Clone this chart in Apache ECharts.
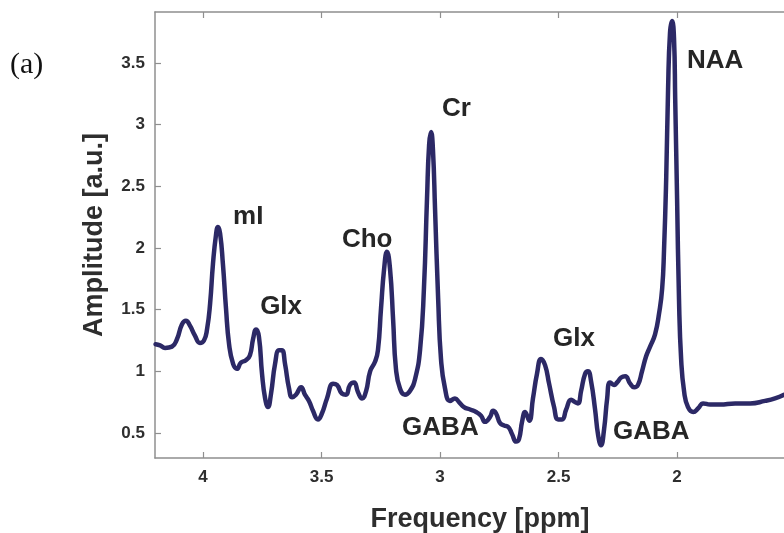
<!DOCTYPE html>
<html>
<head>
<meta charset="utf-8">
<script src="https://cdn.jsdelivr.net/npm/echarts@6/dist/echarts.min.js"></script>
<style>
html,body{margin:0;padding:0;background:#fff;}
#chart{width:784px;height:533px;}
</style>
</head>
<body>
<div id="chart"></div>
<script>
// Spectrum: frequency (ppm) and amplitude (a.u.)
var ppm = [4.20,4.181,4.160,4.131,4.110,4.089,4.072,4.055,4.034,4.013,3.996,3.983,3.970,3.958,3.945,3.937,3.928,3.916,3.903,3.890,3.873,3.857,3.840,3.819,3.802,3.789,3.776,3.764,3.751,3.738,3.726,3.713,3.696,3.679,3.667,3.654,3.637,3.624,3.608,3.586,3.570,3.553,3.536,3.515,3.498,3.477,3.451,3.435,3.414,3.397,3.380,3.363,3.346,3.329,3.312,3.295,3.274,3.262,3.249,3.236,3.224,3.211,3.198,3.186,3.169,3.148,3.127,3.105,3.084,3.068,3.055,3.046,3.038,3.030,3.021,3.008,2.996,2.979,2.958,2.937,2.920,2.899,2.873,2.848,2.827,2.810,2.789,2.776,2.764,2.747,2.730,2.713,2.696,2.679,2.667,2.654,2.641,2.624,2.608,2.591,2.574,2.557,2.540,2.519,2.502,2.485,2.468,2.447,2.430,2.418,2.405,2.388,2.376,2.363,2.346,2.333,2.321,2.308,2.295,2.283,2.266,2.253,2.236,2.219,2.198,2.181,2.165,2.148,2.131,2.114,2.093,2.076,2.063,2.055,2.046,2.038,2.030,2.021,2.013,2.008,2.000,1.992,1.983,1.970,1.954,1.932,1.911,1.890,1.861,1.819,1.755,1.692,1.629,1.587,1.549];
var amplitude = [1.22,1.21,1.19,1.20,1.26,1.38,1.41,1.37,1.29,1.23,1.25,1.34,1.55,1.87,2.11,2.17,2.12,1.87,1.51,1.22,1.06,1.02,1.07,1.09,1.13,1.26,1.34,1.28,0.98,0.78,0.71,0.82,1.06,1.17,1.17,1.06,0.86,0.79,0.81,0.87,0.81,0.76,0.68,0.61,0.66,0.78,0.90,0.89,0.82,0.81,0.89,0.91,0.83,0.78,0.84,1.00,1.08,1.17,1.51,1.83,1.97,1.83,1.42,1.02,0.86,0.81,0.84,0.94,1.18,1.67,2.40,2.84,2.94,2.80,2.31,1.59,1.10,0.86,0.76,0.78,0.75,0.71,0.69,0.67,0.64,0.59,0.63,0.68,0.66,0.58,0.56,0.55,0.49,0.43,0.45,0.59,0.67,0.60,0.78,0.98,1.10,1.05,0.90,0.71,0.61,0.61,0.69,0.77,0.75,0.74,0.84,0.98,1.00,0.92,0.69,0.48,0.40,0.53,0.78,0.91,0.89,0.91,0.95,0.96,0.90,0.87,0.89,1.00,1.12,1.20,1.30,1.47,1.67,1.99,2.56,3.29,3.74,3.84,3.70,3.21,2.40,1.59,1.10,0.83,0.71,0.67,0.70,0.74,0.73,0.73,0.74,0.74,0.76,0.78,0.81];

// Tick labels
var xTicks = [2, 2.5, 3, 3.5, 4];
var yTicks = [0.5, 1, 1.5, 2, 2.5, 3, 3.5];

// Peak annotations
var annNames = ['mI','Glx','Cho','Cr','GABA','Glx','GABA','NAA'];
var annPpm = [3.873, 3.759, 3.414, 2.992, 3.160, 2.523, 2.270, 1.958];
var annAmp = [2.25, 1.52, 2.065, 3.128, 0.54, 1.262, 0.508, 3.517];

var lineData = ppm.map(function(p, i){ return [p, amplitude[i]]; });
var annData = annNames.map(function(n, i){ return {name: n, value: [annPpm[i], annAmp[i]]}; });

var axisColor = '#8f8f8f';
var labelColor = '#2e2e2e';
var fontFam = '"Liberation Sans", Arial, sans-serif';

var chart = echarts.init(document.getElementById('chart'), null, {renderer: 'canvas'});
chart.setOption({
  animation: false,
  backgroundColor: '#ffffff',
  grid: {left: 155, right: 0, top: 12, bottom: 75, containLabel: false, outerBoundsMode: 'none'},
  xAxis: [{
    type: 'value', inverse: true, min: 1.549, max: 4.2025, position: 'bottom',
    axisLine: {show: true, onZero: false, lineStyle: {color: axisColor, width: 1.5}},
    axisTick: {show: true, inside: true, length: 6, customValues: xTicks, lineStyle: {color: axisColor, width: 1.2}},
    axisLabel: {show: true, customValues: xTicks, margin: 11, color: labelColor, fontSize: 17, fontWeight: 'bold', fontFamily: fontFam,
      formatter: function(v){ return String(v); }},
    splitLine: {show: false},
    name: 'Frequency [ppm]', nameLocation: 'middle', nameGap: 48,
    nameTextStyle: {color: labelColor, fontSize: 27, fontWeight: 'bold', fontFamily: fontFam, padding: [0, 0, 0, 21]}
  }, {
    type: 'value', inverse: true, min: 1.549, max: 4.2025, position: 'top',
    axisLine: {show: true, onZero: false, lineStyle: {color: axisColor, width: 1.5}},
    axisTick: {show: true, inside: true, length: 6, customValues: xTicks, lineStyle: {color: axisColor, width: 1.2}},
    axisLabel: {show: false},
    splitLine: {show: false}
  }],
  yAxis: [{
    type: 'value', min: 0.297, max: 3.914, position: 'left',
    axisLine: {show: true, onZero: false, lineStyle: {color: axisColor, width: 1.5}},
    axisTick: {show: true, inside: true, length: 6, customValues: yTicks, lineStyle: {color: axisColor, width: 1.2}},
    axisLabel: {show: true, customValues: yTicks, margin: 10, color: labelColor, fontSize: 17, fontWeight: 'bold', fontFamily: fontFam,
      formatter: function(v){ return String(v); }},
    splitLine: {show: false},
    name: 'Amplitude [a.u.]', nameLocation: 'middle', nameGap: 47, nameRotate: 90,
    nameTextStyle: {color: labelColor, fontSize: 27, fontWeight: 'bold', fontFamily: fontFam}
  }],
  graphic: [{
    type: 'text', left: 10, top: 50,
    style: {text: '(a)', fill: '#111111', font: '30px "Liberation Serif", "Times New Roman", serif'}
  }],
  series: [{
    type: 'line', xAxisIndex: 0, yAxisIndex: 0, data: lineData,
    showSymbol: false, smooth: 0.5, clip: true,
    lineStyle: {color: '#2c2966', width: 4.5, cap: 'round', join: 'round'},
    z: 3
  }, {
    type: 'scatter', xAxisIndex: 0, yAxisIndex: 0, data: annData,
    symbolSize: 0, silent: true,
    itemStyle: {opacity: 1},
    label: {show: true, position: [0, 0], align: 'left', verticalAlign: 'middle', opacity: 1,
      formatter: function(p){ return p.name; },
      color: '#262626', fontSize: 26, fontWeight: 'bold', fontFamily: fontFam},
    z: 4
  }]
});
</script>
</body>
</html>
